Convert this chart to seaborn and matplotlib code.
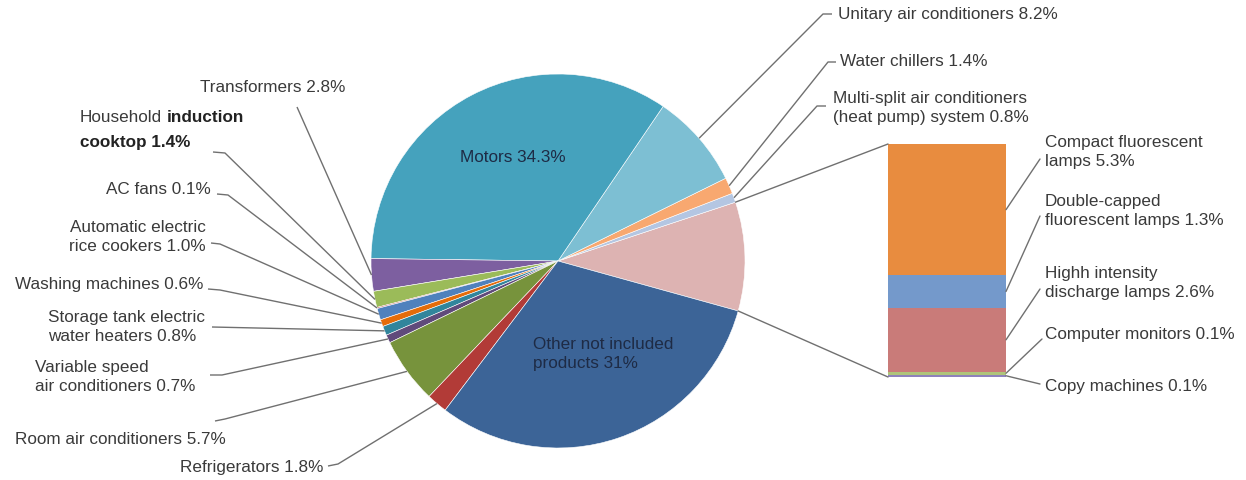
import numpy as np
import matplotlib
matplotlib.use("Agg")
import matplotlib.pyplot as plt
import seaborn as sns
from matplotlib.patches import ConnectionPatch

# ---- data -------------------------------------------------------------
# Breakdown of the lamp / office-equipment group shown as a stacked column
lamp_labels = ["Compact fluorescent\nlamps 5.3%",
               "Double-capped\nfluorescent lamps 1.3%",
               "Highh intensity\ndischarge lamps 2.6%",
               "Computer monitors 0.1%",
               "Copy machines 0.1%"]
lamp_values = [5.3, 1.3, 2.6, 0.1, 0.1]
lamp_colors = ["#E88C3F", "#7499CB", "#C97B79", "#AFC47A", "#8E82BC"]

lamp_total = sum(lamp_values)

# Pie slices, counter-clockwise starting with the lamp group
pie_labels = ["",  # lamp group, exploded into the column
              "Multi-split air conditioners\n(heat pump) system 0.8%",
              "Water chillers 1.4%",
              "Unitary air conditioners 8.2%",
              "Motors 34.3%",
              "Transformers 2.8%",
              "Household induction\ncooktop 1.4%",
              "AC fans 0.1%",
              "Automatic electric\nrice cookers 1.0%",
              "Washing machines 0.6%",
              "Storage tank electric\nwater heaters 0.8%",
              "Variable speed\nair conditioners 0.7%",
              "Room air conditioners 5.7%",
              "Refrigerators 1.8%",
              "Other not included\nproducts 31%"]
pie_values = [lamp_total, 0.8, 1.4, 8.2, 34.3, 2.8, 1.4, 0.1, 1.0, 0.6,
              0.8, 0.7, 5.7, 1.8, 31.0]
pie_colors = ["#DDB3B2", "#B4C6E2", "#F8A870", "#7DBFD3", "#45A2BD",
              "#7D5FA0", "#9BBB59", "#C0504D", "#4F81BD", "#E46C0A",
              "#31859C", "#604A7B", "#77933C", "#B23B37", "#3C6497"]

# ---- layout (pixel-like coordinates, origin at top-left) -------------
W, H = 1246, 481
CX, CY, R = 558, 262, 187
TEXT = "#3A3A3A"
LINE = "#707070"
FS = 12.3

sns.set_theme(style="white")
plt.rcParams["font.family"] = ["Liberation Sans", "DejaVu Sans"]

fig = plt.figure(figsize=(W / 100, H / 100), dpi=100)
fig.patch.set_facecolor("white")
ax = fig.add_axes([0, 0, 1, 1])


def Y(y):
    return H - y


wedges, _ = ax.pie(pie_values, colors=pie_colors, startangle=-15.5,
                   counterclock=True, center=(CX, Y(CY)), radius=R,
                   wedgeprops=dict(edgecolor="white", linewidth=0.4))
ax.set_xlim(0, W)
ax.set_ylim(0, H)
ax.set_aspect("equal")
ax.axis("off")


def edge_point(w, frac=1.0):
    a = np.deg2rad((w.theta1 + w.theta2) / 2)
    return CX + frac * R * np.cos(a), Y(CY) + frac * R * np.sin(a)


# leader routes for the outside labels: elbow and end (top-left pixel coords)
leaders = {
    1: [(817, 107), (826, 107)],
    2: [(828, 63), (836, 63)],
    3: [(823, 15), (832, 15)],
    5: [(297, 108)],
    6: [(225, 154), (213, 153)],
    7: [(228, 196), (217, 195)],
    8: [(220, 245), (211, 244)],
    9: [(220, 291), (208, 290)],
    10: [(212, 328)],
    11: [(222, 376), (210, 376)],
    12: [(225, 420), (215, 422)],
    13: [(338, 465), (328, 467)],
}
for i, pts in leaders.items():
    x0, y0 = edge_point(wedges[i])
    xs = [x0] + [p[0] for p in pts]
    ys = [y0] + [Y(p[1]) for p in pts]
    ax.plot(xs, ys, color=LINE, lw=1.0, solid_capstyle="butt")

# outside label placement: (x, y, ha, multialignment)
placements = {
    1: (833, 108, "left"),
    2: (840, 62, "left"),
    3: (838, 15, "left"),
    5: (200, 88, "left"),
    7: (211, 190, "right"),
    8: (206, 237, "right"),
    9: (203, 285, "right"),
    10: (48, 327, "left"),
    11: (35, 377, "left"),
    12: (15, 440, "left"),
    13: (180, 468, "left"),
}
for i, (x, y, ha) in placements.items():
    ax.text(x, Y(y), pie_labels[i], ha=ha, va="center", fontsize=FS,
            color=TEXT, multialignment=ha, linespacing=1.3)

# induction cooktop label: plain "Household" then bold remainder
first, second = pie_labels[6].split("\n")
word1, word2 = first.split(" ", 1)
t1 = ax.text(80, Y(118), word1, ha="left", va="center", fontsize=FS,
             color=TEXT)
fig.canvas.draw()
bb = t1.get_window_extent(fig.canvas.get_renderer())
x_after = ax.transData.inverted().transform((bb.x1, 0))[0] + 5
ax.text(x_after, Y(118), word2, ha="left", va="center", fontsize=FS,
        color="#222222", fontweight="bold")
ax.text(80, Y(143), second, ha="left", va="center", fontsize=FS,
        color="#222222", fontweight="bold")

# labels printed inside the two big slices
ax.text(460, Y(158), pie_labels[4], ha="left", va="center", fontsize=FS,
        color="#1E2B45")
ax.text(533, Y(354), pie_labels[14], ha="left", va="center", fontsize=FS,
        color="#1E2B45", linespacing=1.3)

# ---- stacked column for the lamp group --------------------------------
ax_bar = fig.add_axes([888 / W, (H - 378) / H, 118 / W, 233 / H])
order = list(range(len(lamp_values)))[::-1]          # bottom to top
bottom_vals = [lamp_values[k] for k in order]
cum = np.cumsum(bottom_vals)
for j in range(len(order) - 1, -1, -1):
    k = order[j]
    sns.barplot(x=[0], y=[cum[j]], color=lamp_colors[k], width=1,
                saturation=1, linewidth=0, ax=ax_bar)
ax_bar.set_xlim(-0.5, 0.5)
ax_bar.set_ylim(0, lamp_total)
ax_bar.axis("off")

# lines joining the lamp slice to the column
lamp_w = wedges[0]
for ang, corner in ((lamp_w.theta2, (0, 1)), (lamp_w.theta1, (0, 0))):
    a = np.deg2rad(ang)
    p = (CX + R * np.cos(a), Y(CY) + R * np.sin(a))
    con = ConnectionPatch(xyA=p, coordsA=ax.transData, xyB=corner,
                          coordsB=ax_bar.transAxes, color=LINE, lw=1.0)
    fig.add_artist(con)

# column labels with leader lines
lamp_label_pos = [(1045, 152), (1045, 211), (1045, 283), (1045, 334),
                  (1045, 387)]
lamp_line_end = [(1040, 160), (1040, 217), (1040, 290), (1042, 340),
                 (1040, 385)]
for j, k in enumerate(order):
    mid = cum[j] - bottom_vals[j] / 2
    ex, ey = lamp_line_end[k]
    con = ConnectionPatch(xyA=(0.5, mid), coordsA=ax_bar.transData,
                          xyB=(ex, Y(ey)), coordsB=ax.transData,
                          color=LINE, lw=1.0)
    fig.add_artist(con)
    lx, ly = lamp_label_pos[k]
    ax.text(lx, Y(ly), lamp_labels[k], ha="left", va="center", fontsize=FS,
            color=TEXT, linespacing=1.3)

fig.savefig("out.png", dpi=100, facecolor="white")
